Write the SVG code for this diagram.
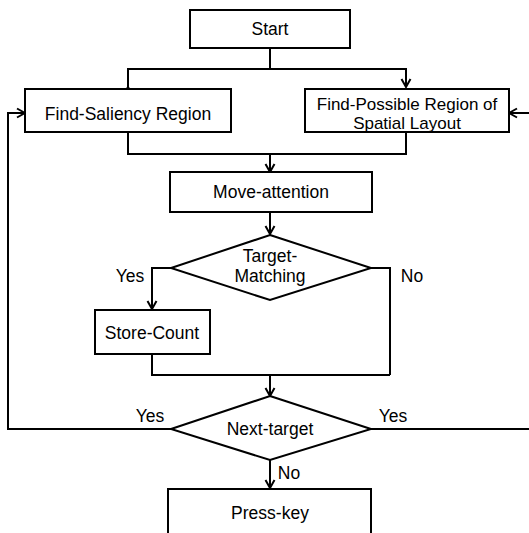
<svg xmlns="http://www.w3.org/2000/svg" width="529" height="533" viewBox="0 0 529 533">
<defs>
<marker id="arr" viewBox="0 0 12 12" refX="11" refY="6" markerWidth="12" markerHeight="12" markerUnits="userSpaceOnUse" orient="auto">
<polyline points="3,1.5 11,6 3,10.5" fill="none" stroke="#000" stroke-width="2"/>
</marker>
<style>
.box{fill:#fff;stroke:#000;stroke-width:2}
.ln{fill:none;stroke:#000;stroke-width:2}
text{font-family:"Liberation Sans",Arial,sans-serif;font-size:17.5px;fill:#000;text-anchor:middle}
</style>
</defs>
<rect width="529" height="533" fill="#fff"/>
<g id="connectors">
<polyline class="ln" points="270,48 270,69"/>
<polyline class="ln" points="128,87 128,69 406,69 406,87" marker-start="url(#arr)" marker-end="url(#arr)"/>
<polyline class="ln" points="128,132 128,154 406,154 406,132"/>
<line class="ln" x1="270" y1="154" x2="270" y2="172" marker-end="url(#arr)"/>
<line class="ln" x1="270" y1="212" x2="270" y2="234" marker-end="url(#arr)"/>
<polyline class="ln" points="171,268 152,268 152,309" marker-end="url(#arr)"/>
<polyline class="ln" points="371,268 390,268 390,375"/>
<polyline class="ln" points="152,354 152,375 390,375"/>
<line class="ln" x1="270" y1="375" x2="270" y2="396" marker-end="url(#arr)"/>
<polyline class="ln" points="171,429 8,429 8,113 25,113" marker-end="url(#arr)"/>
<line class="ln" x1="371" y1="429" x2="530" y2="429"/>
<line class="ln" x1="530" y1="113" x2="509" y2="113" marker-end="url(#arr)"/>
<line class="ln" x1="270" y1="460" x2="270" y2="488" marker-end="url(#arr)"/>
<text x="130" y="282">Yes</text>
<text x="412" y="282">No</text>
<text x="150" y="422">Yes</text>
<text x="393" y="422">Yes</text>
<text x="289" y="479">No</text>
</g>
<g id="start">
<rect class="box" x="190" y="10" width="160" height="38"/>
<text x="270" y="35">Start</text>
</g>
<g id="find-saliency">
<rect class="box" x="25" y="89" width="206" height="43"/>
<text x="128" y="120">Find-Saliency Region</text>
</g>
<g id="find-possible">
<rect class="box" x="305" y="89" width="204" height="43"/>
<text x="407" y="110" style="font-size:17px">Find-Possible Region of</text>
<text x="407" y="128.5" style="font-size:17px">Spatial Layout</text>
</g>
<g id="move-attention">
<rect class="box" x="170" y="172" width="202" height="40"/>
<text x="271" y="198">Move-attention</text>
</g>
<g id="target-matching">
<polygon class="box" points="270,235 371,268 270,300 171,268"/>
<text x="270" y="262">Target-</text>
<text x="270" y="282">Matching</text>
</g>
<g id="store-count">
<rect class="box" x="95" y="310" width="115" height="44"/>
<text x="152" y="339">Store-Count</text>
</g>
<g id="next-target">
<polygon class="box" points="270,396 371,429 270,460 171,429"/>
<text x="270" y="435">Next-target</text>
</g>
<g id="press-key">
<rect class="box" x="168" y="489" width="203" height="50"/>
<text x="270" y="519">Press-key</text>
</g>
</svg>
